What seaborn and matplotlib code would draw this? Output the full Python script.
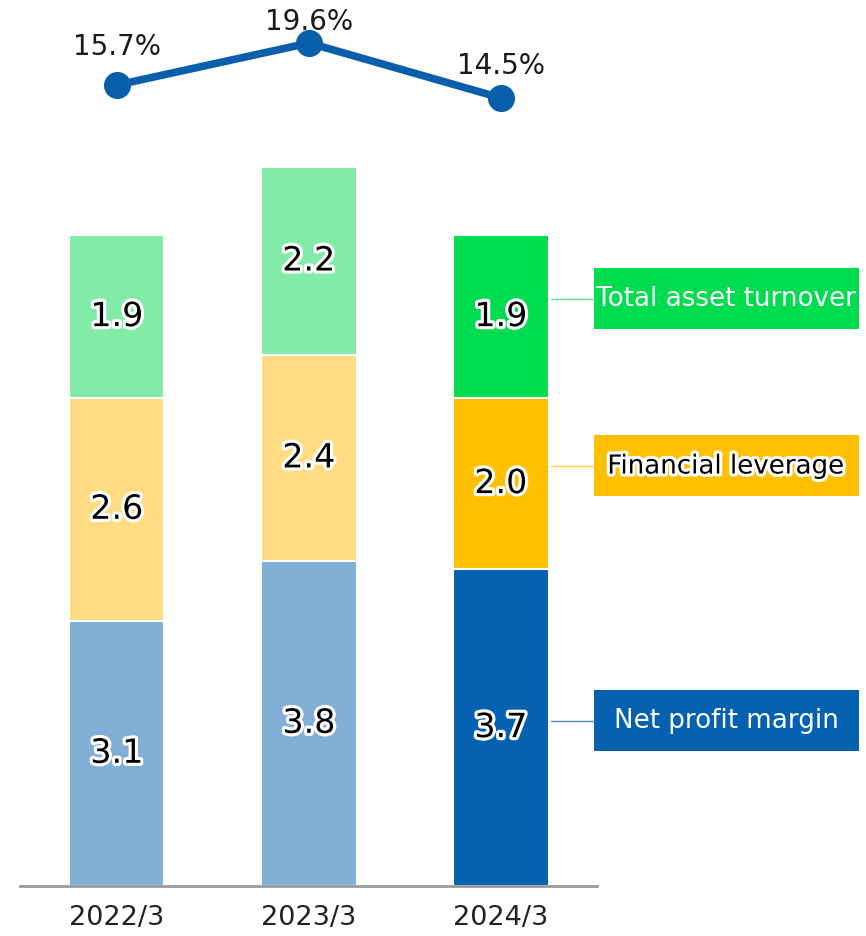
import numpy as np
import pandas as pd
import matplotlib
matplotlib.use("Agg")
import matplotlib.pyplot as plt
import matplotlib.patheffects as pe
from matplotlib.patches import Rectangle
from matplotlib.lines import Line2D
import seaborn as sns

# ---------------- data ----------------
years = ["2022/3", "2023/3", "2024/3"]
net_profit_margin = [3.1, 3.8, 3.7]
financial_leverage = [2.6, 2.4, 2.0]
total_asset_turnover = [1.9, 2.2, 1.9]
roe = [15.7, 19.6, 14.5]
roe_labels = ["15.7%", "19.6%", "14.5%"]
series_names = ["Total asset turnover", "Financial leverage", "Net profit margin"]

# ---------------- style ----------------
sns.set_theme(style="white")
plt.rcParams["font.family"] = ["DejaVu Sans"]

light_cols = {"npm": "#82AFD6", "fl": "#FFDC82", "tat": "#82EBA8"}
dark_cols = {"npm": "#0662B0", "fl": "#FFC000", "tat": "#00DC50"}
line_col = "#0A5FAD"

W, H = 866, 936
fig = plt.figure(figsize=(W / 100, H / 100), dpi=100)


def fx(px):
    return px / W


def fy(py):
    return 1 - py / H


halo = [pe.withStroke(linewidth=4.5, foreground="white")]

# ---------------- stacked bars ----------------
ax = fig.add_axes([fx(20), fy(886), fx(597) - fx(20), fy(136) - fy(886)])
df = pd.DataFrame({
    "year": years,
    "npm": net_profit_margin,
    "fl": financial_leverage,
    "tat": total_asset_turnover,
})
df["c1"] = df["npm"]
df["c2"] = df["npm"] + df["fl"]
df["c3"] = df["c2"] + df["tat"]

layers = [("c3", "tat"), ("c2", "fl"), ("c1", "npm")]
for col, key in layers:
    pal = [light_cols[key], light_cols[key], dark_cols[key]]
    sns.barplot(data=df, x="year", y=col, hue="year", palette=pal,
                legend=False, width=0.495, saturation=1,
                edgecolor="white", linewidth=1.5, ax=ax)

# value labels
for i in range(len(years)):
    bottoms = [0, df["c1"][i], df["c2"][i]]
    vals = [net_profit_margin[i], financial_leverage[i], total_asset_turnover[i]]
    for b, v in zip(bottoms, vals):
        ax.text(i, b + v / 2, f"{v:.1f}", ha="center", va="center",
                fontsize=24, color="black", path_effects=halo)

ax.set_xlim(-0.505, 2.5)
ax.set_ylim(0, 8.76)
ax.set_xlabel("")
ax.set_ylabel("")
ax.set_yticks([])
for s in ["top", "right", "left"]:
    ax.spines[s].set_visible(False)
ax.spines["bottom"].set_color("#9A9A9A")
ax.spines["bottom"].set_linewidth(2)
ax.tick_params(axis="x", length=0, pad=14, labelsize=19.5, labelcolor="#222222")
ax.set_facecolor("none")

# ---------------- ROE line ----------------
ax2 = fig.add_axes([fx(20), fy(136), fx(597) - fx(20), fy(0) - fy(136)])
xpos = np.arange(len(years))
sns.lineplot(x=xpos, y=roe, color=line_col, linewidth=5.5, marker="o",
             markersize=19.5, markeredgewidth=0, ax=ax2, clip_on=False)
label_offsets = [38, 21, 32]
for xi, yi, lab, off in zip(xpos, roe, roe_labels, label_offsets):
    ax2.annotate(lab, (xi, yi), xytext=(0, off * 0.72), textcoords="offset points",
                 ha="center", va="center", fontsize=20, color="#1a1a1a",
                 annotation_clip=False)
ax2.set_xlim(-0.505, 2.5)
ax2.set_ylim(10.975, 23.59)
ax2.axis("off")

# ---------------- legend boxes ----------------
boxes = [
    ("Total asset turnover", dark_cols["tat"], 268, 329, "white", False, "#5EE08E"),
    ("Financial leverage", dark_cols["fl"], 435, 496, "black", True, "#FFD04A"),
    ("Net profit margin", dark_cols["npm"], 690, 751, "white", False, "#4A88C4"),
]
for name, col, y0, y1, tcol, use_halo, lcol in boxes:
    fig.patches.append(Rectangle((fx(594), fy(y1)), fx(859) - fx(594), fy(y0) - fy(y1),
                                 transform=fig.transFigure, facecolor=col,
                                 edgecolor="none"))
    yc = (y0 + y1) / 2
    fig.lines.append(Line2D([fx(551), fx(594)], [fy(yc), fy(yc)],
                            transform=fig.transFigure, color=lcol, linewidth=1))
    fig.text(fx(726.5), fy(yc + 1), name, ha="center", va="center",
             fontsize=18.8, color=tcol,
             path_effects=halo if use_halo else None)

fig.savefig("out.png", dpi=100)
